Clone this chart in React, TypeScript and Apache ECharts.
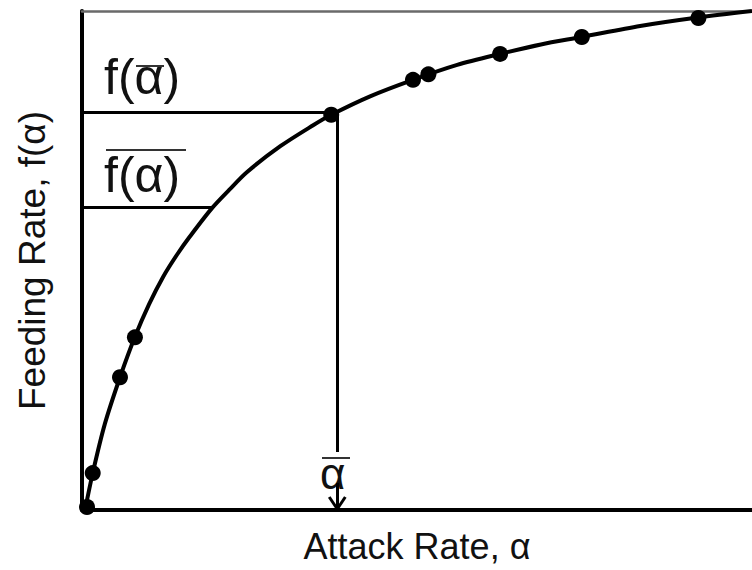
import React, { useEffect, useRef } from "react";
import * as echarts from "echarts";

// Curve (attack rate, feeding rate)
const CURVE_X = [0.045, 0.16, 0.34, 0.57, 0.79, 1.0, 1.21, 1.42, 1.61, 1.94, 2.2, 2.46, 2.96, 3.45, 3.72, 4.3, 4.94, 5.6, 6.24, 6.85, 7.46, 8.33, 9.19, 10];
const CURVE_Y = [0, 0.74, 1.72, 2.67, 3.47, 4.12, 4.67, 5.12, 5.48, 6.05, 6.42, 6.77, 7.29, 7.71, 7.92, 8.29, 8.62, 8.92, 9.14, 9.33, 9.48, 9.7, 9.87, 10.0];

// Observed points
const DOT_X = [0.075, 0.16, 0.567, 0.79, 3.72, 4.94, 5.17, 6.24, 7.46, 9.2];
const DOT_Y = [0.06, 0.74, 2.66, 3.46, 7.92, 8.62, 8.73, 9.14, 9.48, 9.86];

// Annotation values
const ALPHA_BAR = 3.81; // mean attack rate
const F_OF_ALPHA_BAR = 7.97; // f(mean alpha)
const MEAN_F = 6.06; // mean of f(alpha)
const MEAN_F_ALPHA = 1.94; // where the curve reaches mean f
const VLINE_BOTTOM = 1.16;
const ARROW_TOP = 0.54;
const ARROW_TIP = 0.02;
const ARROW_HEAD_Y = 0.26;
const ARROW_HEAD_DX = 0.12;

const X_MIN = 0;
const X_MAX = 10;
const Y_MIN = 0;
const Y_MAX = 10;

const FONT = "'Liberation Sans', Arial, Helvetica, sans-serif";

export default function App() {
  const ref = useRef<HTMLDivElement>(null);

  useEffect(() => {
    if (!ref.current) return;
    const chart = echarts.init(ref.current, undefined, { renderer: "svg" });

    const curve = CURVE_X.map((x, i) => [x, CURVE_Y[i]]);
    const dots = DOT_X.map((x, i) => [x, DOT_Y[i]]);

    const seg = (x1: number, y1: number, x2: number, y2: number) => [
      { coord: [x1, y1] },
      { coord: [x2, y2] },
    ];

    chart.setOption({
      animation: false,
      backgroundColor: "#ffffff",
      textStyle: { fontFamily: FONT },
      grid: { left: 82, right: 0, top: 11, bottom: 60, containLabel: false },
      xAxis: [
        {
          type: "value",
          min: X_MIN,
          max: X_MAX,
          name: "Attack Rate, α",
          nameLocation: "middle",
          nameGap: 18,
          nameTextStyle: { fontSize: 36, color: "#111", fontFamily: FONT },
          axisLine: { show: true, onZero: false, lineStyle: { color: "#000", width: 4 } },
          axisTick: { show: false },
          axisLabel: { show: false },
          splitLine: { show: false },
        },
        {
          type: "value",
          position: "top",
          min: X_MIN,
          max: X_MAX,
          axisLine: { show: true, onZero: false, lineStyle: { color: "#6a6a6a", width: 2.5 } },
          axisTick: { show: false },
          axisLabel: { show: false },
          splitLine: { show: false },
        },
      ],
      yAxis: {
        type: "value",
        min: Y_MIN,
        max: Y_MAX,
        name: "Feeding Rate, f(α)",
        nameLocation: "middle",
        nameRotate: 90,
        nameGap: 31,
        nameTextStyle: { fontSize: 37, color: "#111", fontFamily: FONT },
        axisLine: { show: true, onZero: false, lineStyle: { color: "#000", width: 4 } },
        axisTick: { show: false },
        axisLabel: { show: false },
        splitLine: { show: false },
      },
      series: [
        {
          type: "line",
          data: curve,
          smooth: 0.3,
          symbol: "none",
          lineStyle: { color: "#000", width: 4 },
          z: 3,
          markLine: {
            silent: true,
            symbol: ["none", "none"],
            label: { show: false },
            lineStyle: { color: "#000", width: 3, type: "solid" },
            data: [
              seg(0, F_OF_ALPHA_BAR, DOT_X[4], F_OF_ALPHA_BAR),
              seg(ALPHA_BAR, DOT_Y[4], ALPHA_BAR, VLINE_BOTTOM),
              seg(0, MEAN_F, MEAN_F_ALPHA, MEAN_F),
              seg(ALPHA_BAR, ARROW_TOP, ALPHA_BAR, ARROW_TIP),
              seg(ALPHA_BAR - ARROW_HEAD_DX, ARROW_HEAD_Y, ALPHA_BAR, ARROW_TIP),
              seg(ALPHA_BAR + ARROW_HEAD_DX, ARROW_HEAD_Y, ALPHA_BAR, ARROW_TIP),
            ],
          },
        },
        {
          type: "scatter",
          data: dots,
          symbol: "circle",
          symbolSize: 16,
          itemStyle: { color: "#000", opacity: 1 },
          z: 4,
        },
      ],
      graphic: [
        {
          type: "text",
          left: 104,
          top: 52,
          style: { text: "f(α)", fontSize: 50, fontFamily: FONT, fill: "#111" },
        },
        {
          type: "line",
          shape: { x1: 136, y1: 66, x2: 164, y2: 66 },
          style: { stroke: "#333", lineWidth: 2 },
        },
        {
          type: "text",
          left: 104,
          top: 150,
          style: { text: "f(α)", fontSize: 50, fontFamily: FONT, fill: "#111" },
        },
        {
          type: "line",
          shape: { x1: 106, y1: 150, x2: 186, y2: 150 },
          style: { stroke: "#333", lineWidth: 2 },
        },
        {
          type: "text",
          left: 320,
          top: 451,
          style: { text: "α", fontSize: 44, fontFamily: FONT, fill: "#111" },
        },
        {
          type: "line",
          shape: { x1: 322, y1: 458, x2: 350, y2: 458 },
          style: { stroke: "#333", lineWidth: 2 },
        },
      ],
    });

    return () => chart.dispose();
  }, []);

  return (
    <div
      ref={ref}
      style={{ position: "absolute", left: 0, top: 0, width: 752, height: 570, background: "#fff" }}
    />
  );
}
